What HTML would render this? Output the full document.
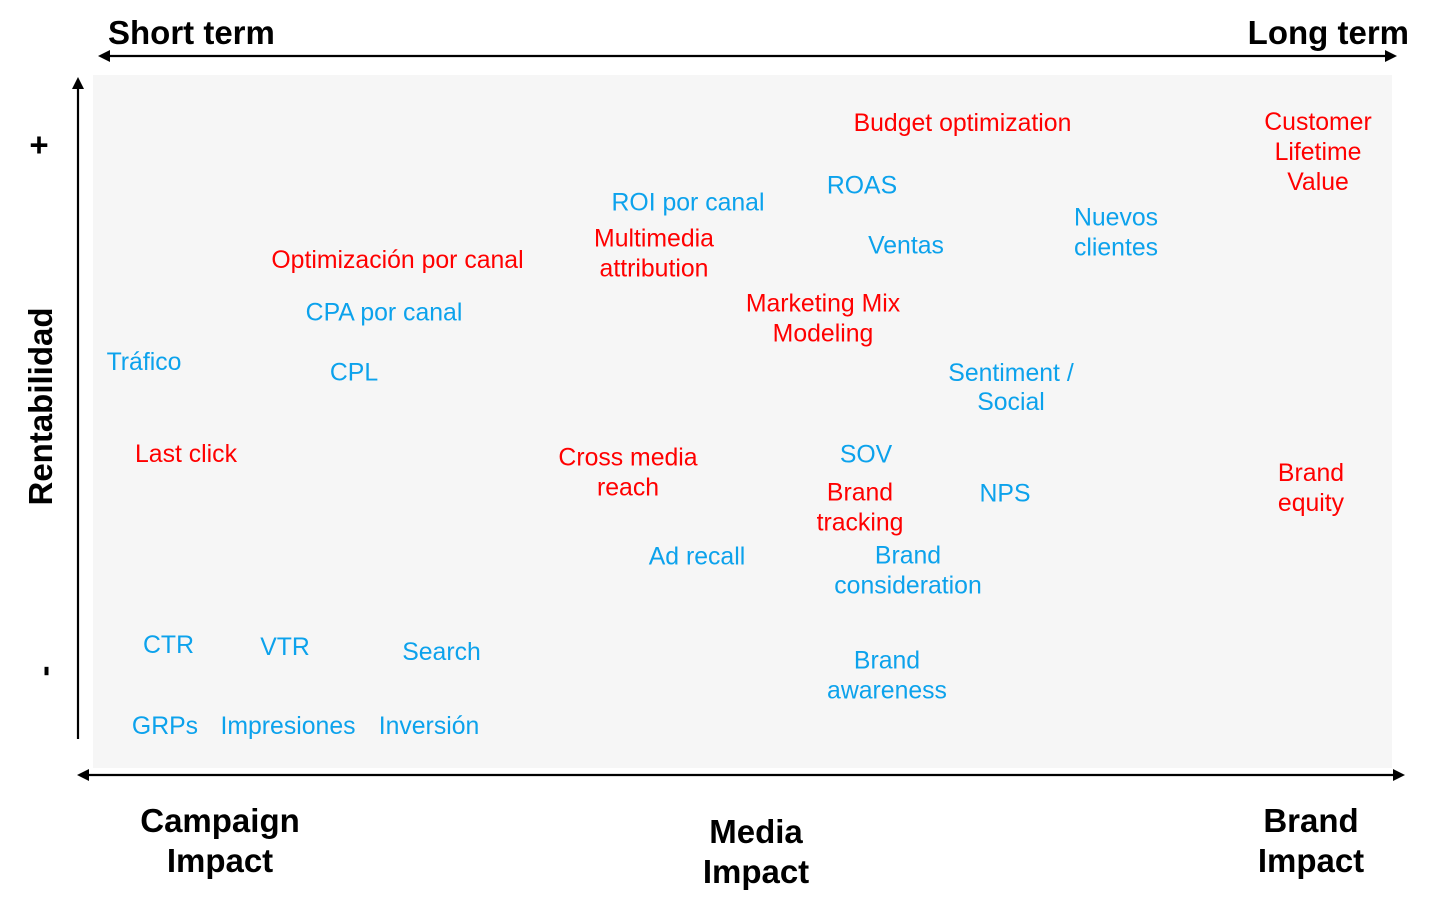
<!DOCTYPE html>
<html>
<head>
<meta charset="utf-8">
<style>
  html, body { margin: 0; padding: 0; background: #ffffff; }
  body { width: 1443px; height: 911px; overflow: hidden; }
  svg { display: block; }
  text { font-family: "Liberation Sans", Arial, sans-serif; }
  .b { fill: #0ca2ec; font-size: 24.8px; text-anchor: middle; }
  .r { fill: #ff0000; font-size: 24.8px; text-anchor: middle; }
  .h { fill: #000; font-size: 33px; font-weight: bold; }
  .hm { fill: #000; font-size: 33px; font-weight: bold; text-anchor: middle; }
</style>
</head>
<body>
<svg width="1443" height="911" viewBox="0 0 1443 911" xmlns="http://www.w3.org/2000/svg">
  <!-- background panel -->
  <rect x="93" y="75" width="1299" height="693" fill="#f6f6f6"/>

  <!-- top arrow (both ends) -->
  <line x1="108" y1="56" x2="1387" y2="56" stroke="#000" stroke-width="2.2"/>
  <polygon points="98,56 110,50 110,62" fill="#000"/>
  <polygon points="1397,56 1385,50 1385,62" fill="#000"/>

  <!-- vertical arrow -->
  <line x1="78" y1="87" x2="78" y2="739" stroke="#000" stroke-width="2.2"/>
  <polygon points="78,77 72,89 84,89" fill="#000"/>

  <!-- bottom arrow (both ends) -->
  <line x1="87" y1="775" x2="1395" y2="775" stroke="#000" stroke-width="2.2"/>
  <polygon points="77,775 89,769 89,781" fill="#000"/>
  <polygon points="1405,775 1393,769 1393,781" fill="#000"/>

  <!-- header labels -->
  <text class="h" x="108" y="44">Short term</text>
  <text class="h" x="1409" y="44" text-anchor="end">Long term</text>

  <!-- y axis labels -->
  <text class="hm" x="39" y="156" font-size="36">+</text>
  <text class="hm" transform="translate(43 671) rotate(-90)" x="0" y="12" font-size="38">-</text>
  <text class="hm" transform="translate(52 406.5) rotate(-90)" x="0" y="0">Rentabilidad</text>

  <!-- bottom labels -->
  <text class="hm" x="220" y="832">Campaign</text>
  <text class="hm" x="220" y="872">Impact</text>
  <text class="hm" x="756" y="843">Media</text>
  <text class="hm" x="756" y="883">Impact</text>
  <text class="hm" x="1311" y="832">Brand</text>
  <text class="hm" x="1311" y="872">Impact</text>

  <!-- items -->
  <text class="r" x="962.5" y="131">Budget optimization</text>

  <text class="r" x="1318" y="130">Customer</text>
  <text class="r" x="1318" y="160">Lifetime</text>
  <text class="r" x="1318" y="190">Value</text>

  <text class="b" x="862" y="193.5">ROAS</text>
  <text class="b" x="688" y="210.5">ROI por canal</text>

  <text class="b" x="1116" y="225.5">Nuevos</text>
  <text class="b" x="1116" y="255.5">clientes</text>

  <text class="r" x="654" y="246.5">Multimedia</text>
  <text class="r" x="654" y="276.5">attribution</text>

  <text class="b" x="906" y="253.5">Ventas</text>

  <text class="r" x="397.5" y="268">Optimización por canal</text>

  <text class="r" x="823" y="311.5">Marketing Mix</text>
  <text class="r" x="823" y="341.5">Modeling</text>

  <text class="b" x="384" y="320.5">CPA por canal</text>

  <text class="b" x="144" y="370">Tráfico</text>
  <text class="b" x="354" y="380.5">CPL</text>

  <text class="b" x="1011" y="381">Sentiment /</text>
  <text class="b" x="1011" y="410">Social</text>

  <text class="r" x="186" y="462">Last click</text>

  <text class="r" x="628" y="465.5">Cross media</text>
  <text class="r" x="628" y="495.5">reach</text>

  <text class="b" x="866" y="462.5">SOV</text>

  <text class="r" x="860" y="500.5">Brand</text>
  <text class="r" x="860" y="530.5">tracking</text>

  <text class="b" x="1005" y="501.5">NPS</text>

  <text class="r" x="1311" y="481">Brand</text>
  <text class="r" x="1311" y="511">equity</text>

  <text class="b" x="697" y="564.5">Ad recall</text>

  <text class="b" x="908" y="563.5">Brand</text>
  <text class="b" x="908" y="593.5">consideration</text>

  <text class="b" x="168.5" y="653">CTR</text>
  <text class="b" x="285" y="655">VTR</text>
  <text class="b" x="441.5" y="660">Search</text>

  <text class="b" x="887" y="668.5">Brand</text>
  <text class="b" x="887" y="698.5">awareness</text>

  <text class="b" x="165" y="734">GRPs</text>
  <text class="b" x="288" y="734">Impresiones</text>
  <text class="b" x="429" y="734">Inversión</text>
</svg>
</body>
</html>
